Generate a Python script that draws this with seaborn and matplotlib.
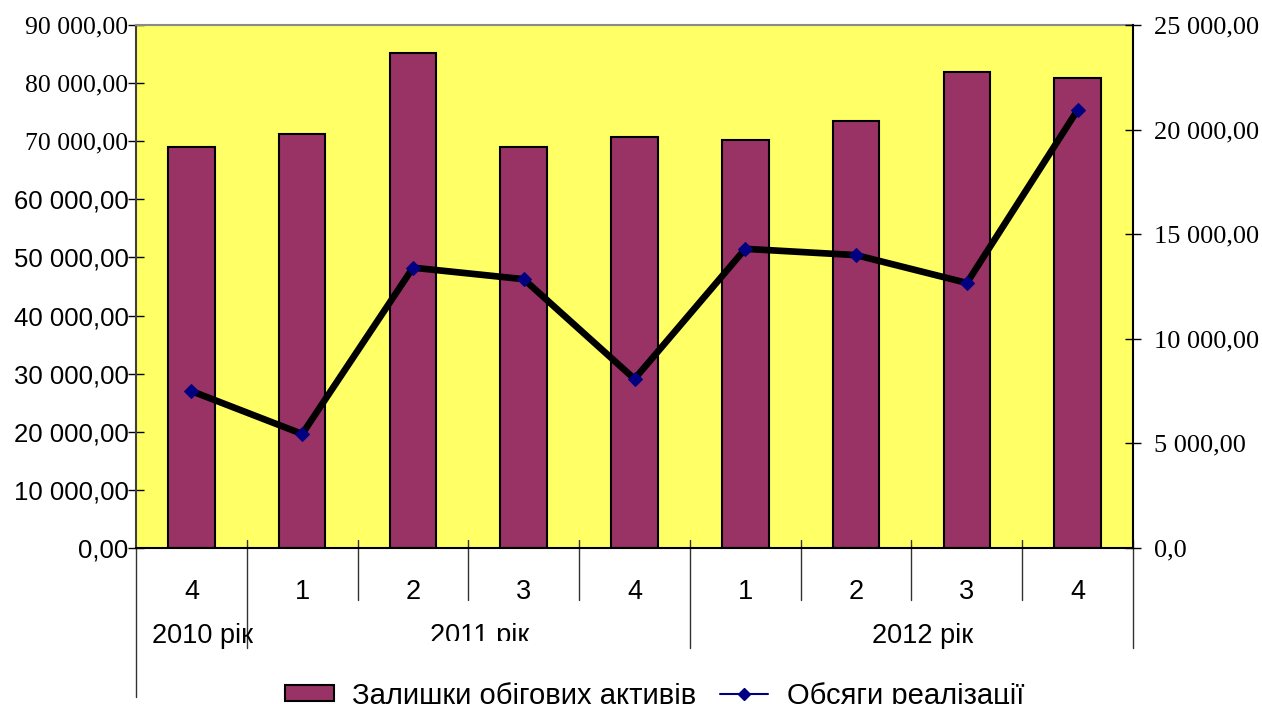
import numpy as np
import pandas as pd
import matplotlib
matplotlib.use("Agg")
import matplotlib.pyplot as plt
import matplotlib.transforms as mtransforms
from matplotlib.lines import Line2D
from matplotlib.patches import Patch, Rectangle
import seaborn as sns

# Quarterly data
periods = ["2010 Q4", "2011 Q1", "2011 Q2", "2011 Q3", "2011 Q4",
           "2012 Q1", "2012 Q2", "2012 Q3", "2012 Q4"]
quarter_labels = ["4", "1", "2", "3", "4", "1", "2", "3", "4"]
year_labels = ["2010 рік", "2011 рік", "2012 рік"]
year_first = [0, 1, 5]   # index of the first quarter of each year
year_last = [0, 4, 8]    # index of the last quarter of each year
current_assets = [69000, 71200, 85200, 69000, 70700, 70200, 73500, 81900, 80900]
sales_volume = [7500, 5450, 13400, 12850, 8080, 14300, 14000, 12670, 20940]
series_names = ["Залишки обігових активів", "Обсяги реалізації"]

sns.set_style("white")
plt.rcParams["font.family"] = ["Liberation Sans", "DejaVu Sans"]
plt.rcParams["text.color"] = "black"
plt.rcParams["xtick.color"] = "black"
plt.rcParams["ytick.color"] = "black"
plt.rcParams["axes.labelcolor"] = "black"
SERIF = ["Liberation Serif", "DejaVu Serif"]
SANS = ["Liberation Sans", "DejaVu Sans"]

BAR_COLOR = "#993366"
PLOT_BG = "#FFFF66"
MARKER_COLOR = "#000080"

df = pd.DataFrame({"period": periods, "assets": current_assets, "sales": sales_volume})


def ua_number(v, decimals=2):
    s = f"{v:,.{decimals}f}"
    return s.replace(",", " ").replace(".", ",")


fig = plt.figure(figsize=(12.62, 7.04), dpi=100)
ax = fig.add_axes([0.1078, 0.2216, 0.79, 0.7429])
ax.set_facecolor(PLOT_BG)

sns.barplot(data=df, x="period", y="assets", order=periods, color=BAR_COLOR,
            saturation=1, edgecolor="black", linewidth=1.5, width=0.42, ax=ax)
ax.set_xlim(-0.5, len(periods) - 0.5)
ax.set_ylim(0, 90000)

ax2 = ax.twinx()
sns.lineplot(data=df, x="period", y="sales", sort=False, color="black",
             linewidth=4.8, marker="D", markersize=7.5,
             markerfacecolor=MARKER_COLOR, markeredgecolor=MARKER_COLOR,
             legend=False, ax=ax2)
ax2.set_ylim(0, 25000)

# Left axis ticks and labels
left_ticks = np.arange(0, 90001, 10000)
ax.set_yticks(left_ticks)
ax.set_yticklabels([ua_number(v) for v in left_ticks])
for v, lab in zip(left_ticks, ax.get_yticklabels()):
    lab.set_fontfamily(SERIF if v >= 70000 else SANS)
ax.tick_params(axis="y", direction="inout", length=11, width=1, pad=0,
               labelsize=18.5, colors="black")

# Right axis ticks and labels
right_ticks = np.arange(0, 25001, 5000)
ax2.set_yticks(right_ticks)
ax2.set_yticklabels([ua_number(v, 1 if v == 0 else 2) for v in right_ticks],
                    fontfamily=SERIF)
ax2.tick_params(axis="y", direction="inout", length=11.5, width=1, pad=9,
                labelsize=19, colors="black")

# Category axis
ax.set_xticks(range(len(periods)))
ax.set_xticklabels(quarter_labels)
ax.tick_params(axis="x", length=0, pad=22, labelsize=19.5, colors="black")
ax.set_xlabel("")
ax.set_ylabel("")
ax2.set_xlabel("")
ax2.set_ylabel("")

# Spines
for side in ["top", "bottom", "left", "right"]:
    ax2.spines[side].set_visible(False)
ax2.spines["right"].set_visible(True)
ax2.spines["right"].set_color("black")
ax2.spines["right"].set_linewidth(1.5)
ax.spines["right"].set_visible(False)
ax.spines["top"].set_color("#8a8a8a")
ax.spines["top"].set_linewidth(1.5)
ax.spines["left"].set_color("#404040")
ax.spines["left"].set_linewidth(1.5)
ax.spines["bottom"].set_color("black")
ax.spines["bottom"].set_linewidth(1.5)

# Category separators below the axis
blend = mtransforms.blended_transform_factory(ax.transData, ax.transAxes)
year_bounds = {year_last[i] + 0.5 for i in range(len(year_last))}
for b in np.arange(-0.5, len(periods)):
    if b == -0.5:
        y0, y1 = 0.0, -0.285
    elif b in year_bounds:
        y0, y1 = 0.0153, -0.191
    else:
        y0, y1 = 0.0153, -0.0994
    ax.add_line(Line2D([b, b], [y0, y1], transform=blend, color="#333333",
                       linewidth=1, clip_on=False))

# Year labels
clip_rect = Rectangle((0, 63 / 704), 1, 1, transform=fig.transFigure)
for name, first, last in zip(year_labels, year_first, year_last):
    t = ax.text((first + last) / 2 + 0.1, -0.168, name, transform=blend,
                ha="center", va="center", fontsize=19.5, clip_on=False,
                color="black")
    if name == "2011 рік":
        t.set_clip_path(clip_rect)
        t.set_clip_on(True)

# Legend
handles = [
    Patch(facecolor=BAR_COLOR, edgecolor="black", linewidth=1.5),
    Line2D([], [], color=MARKER_COLOR, linewidth=1.5, marker="D", markersize=6,
           markerfacecolor=MARKER_COLOR, markeredgecolor=MARKER_COLOR),
]
leg = fig.legend(handles, series_names, loc="center", bbox_to_anchor=(0.519, 0.012),
                 ncol=2, frameon=False, fontsize=21, handlelength=1.65,
                 handleheight=0.45, handletextpad=0.65, columnspacing=0.8)
for txt in leg.get_texts():
    txt.set_color("black")

fig.savefig("out.png", dpi=100, facecolor="white")
